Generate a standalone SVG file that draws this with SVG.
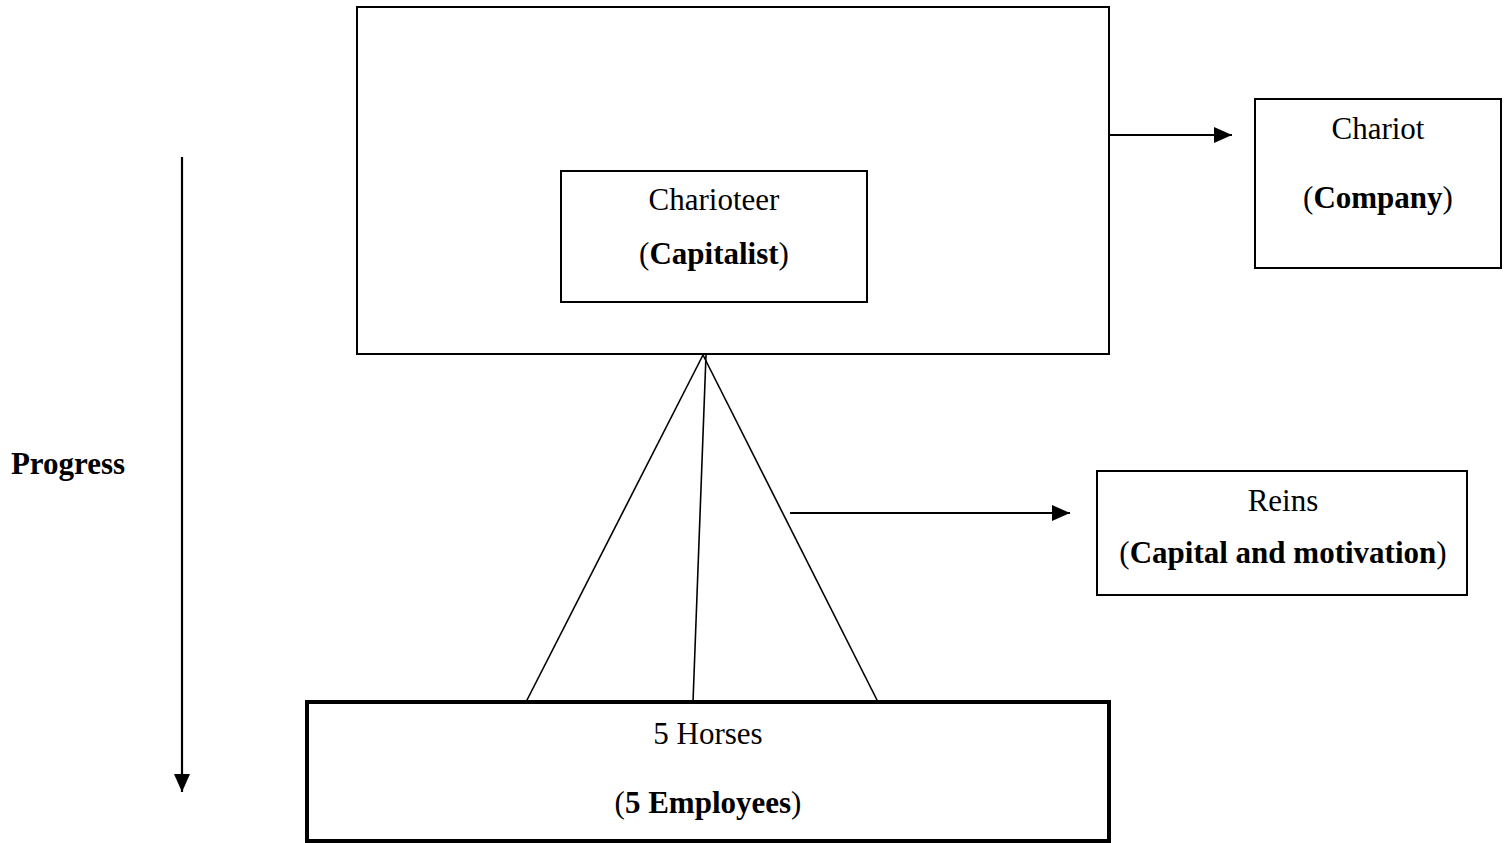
<svg xmlns="http://www.w3.org/2000/svg" width="1510" height="843" viewBox="0 0 1510 843">
  <style>
    .box { fill: #fff; stroke: #000; stroke-width: 2; }
    .thick { stroke-width: 4; }
    .lbl { font-family: "Liberation Serif", "Times New Roman", serif; font-size: 31px; fill: #000; text-anchor: middle; }
    .b { font-weight: bold; }
    .wire { stroke: #000; stroke-width: 2.2; fill: none; }
    .link { stroke: #000; stroke-width: 1.6; fill: none; }
  </style>
  <defs>
    <marker id="head" viewBox="0 0 18 16" refX="18" refY="8" markerWidth="18" markerHeight="16" orient="auto" markerUnits="userSpaceOnUse">
      <path d="M0,0 L18,8 L0,16 z" fill="#000"/>
    </marker>
  </defs>

  <g id="chariot-frame">
    <rect class="box" x="357" y="7" width="752" height="347"/>
  </g>

  <g id="charioteer">
    <rect class="box" x="561" y="171" width="306" height="131"/>
    <text class="lbl" x="714" y="210">Charioteer</text>
    <text class="lbl" x="714" y="264">(<tspan class="b">Capitalist</tspan>)</text>
  </g>

  <g id="chariot">
    <rect class="box" x="1255" y="99" width="246" height="169"/>
    <text class="lbl" x="1378" y="139">Chariot</text>
    <text class="lbl" x="1378" y="208">(<tspan class="b">Company</tspan>)</text>
  </g>

  <g id="reins">
    <rect class="box" x="1097" y="471" width="370" height="124"/>
    <text class="lbl" x="1283" y="511">Reins</text>
    <text class="lbl" x="1283" y="563">(<tspan class="b">Capital and motivation</tspan>)</text>
  </g>

  <g id="horses">
    <rect class="box thick" x="307" y="702" width="802" height="139"/>
    <text class="lbl" x="708" y="744">5 Horses</text>
    <text class="lbl" x="708" y="813">(<tspan class="b">5 Employees</tspan>)</text>
  </g>

  <g id="progress">
    <text class="lbl b" x="68" y="474">Progress</text>
  </g>

  <g id="connectors">
    <!-- reins fanning down from the chariot to the horses -->
    <line class="link" x1="703" y1="355" x2="526" y2="702"/>
    <line class="link" x1="703" y1="355" x2="878" y2="702"/>
    <line class="link" x1="706" y1="355" x2="693" y2="702"/>
    <!-- labelled pointers -->
    <line class="wire" x1="1110" y1="135" x2="1232" y2="135" marker-end="url(#head)"/>
    <line class="wire" x1="790" y1="513" x2="1070" y2="513" marker-end="url(#head)"/>
    <!-- direction of travel -->
    <line class="wire" x1="182" y1="157" x2="182" y2="792" marker-end="url(#head)"/>
  </g>
</svg>
